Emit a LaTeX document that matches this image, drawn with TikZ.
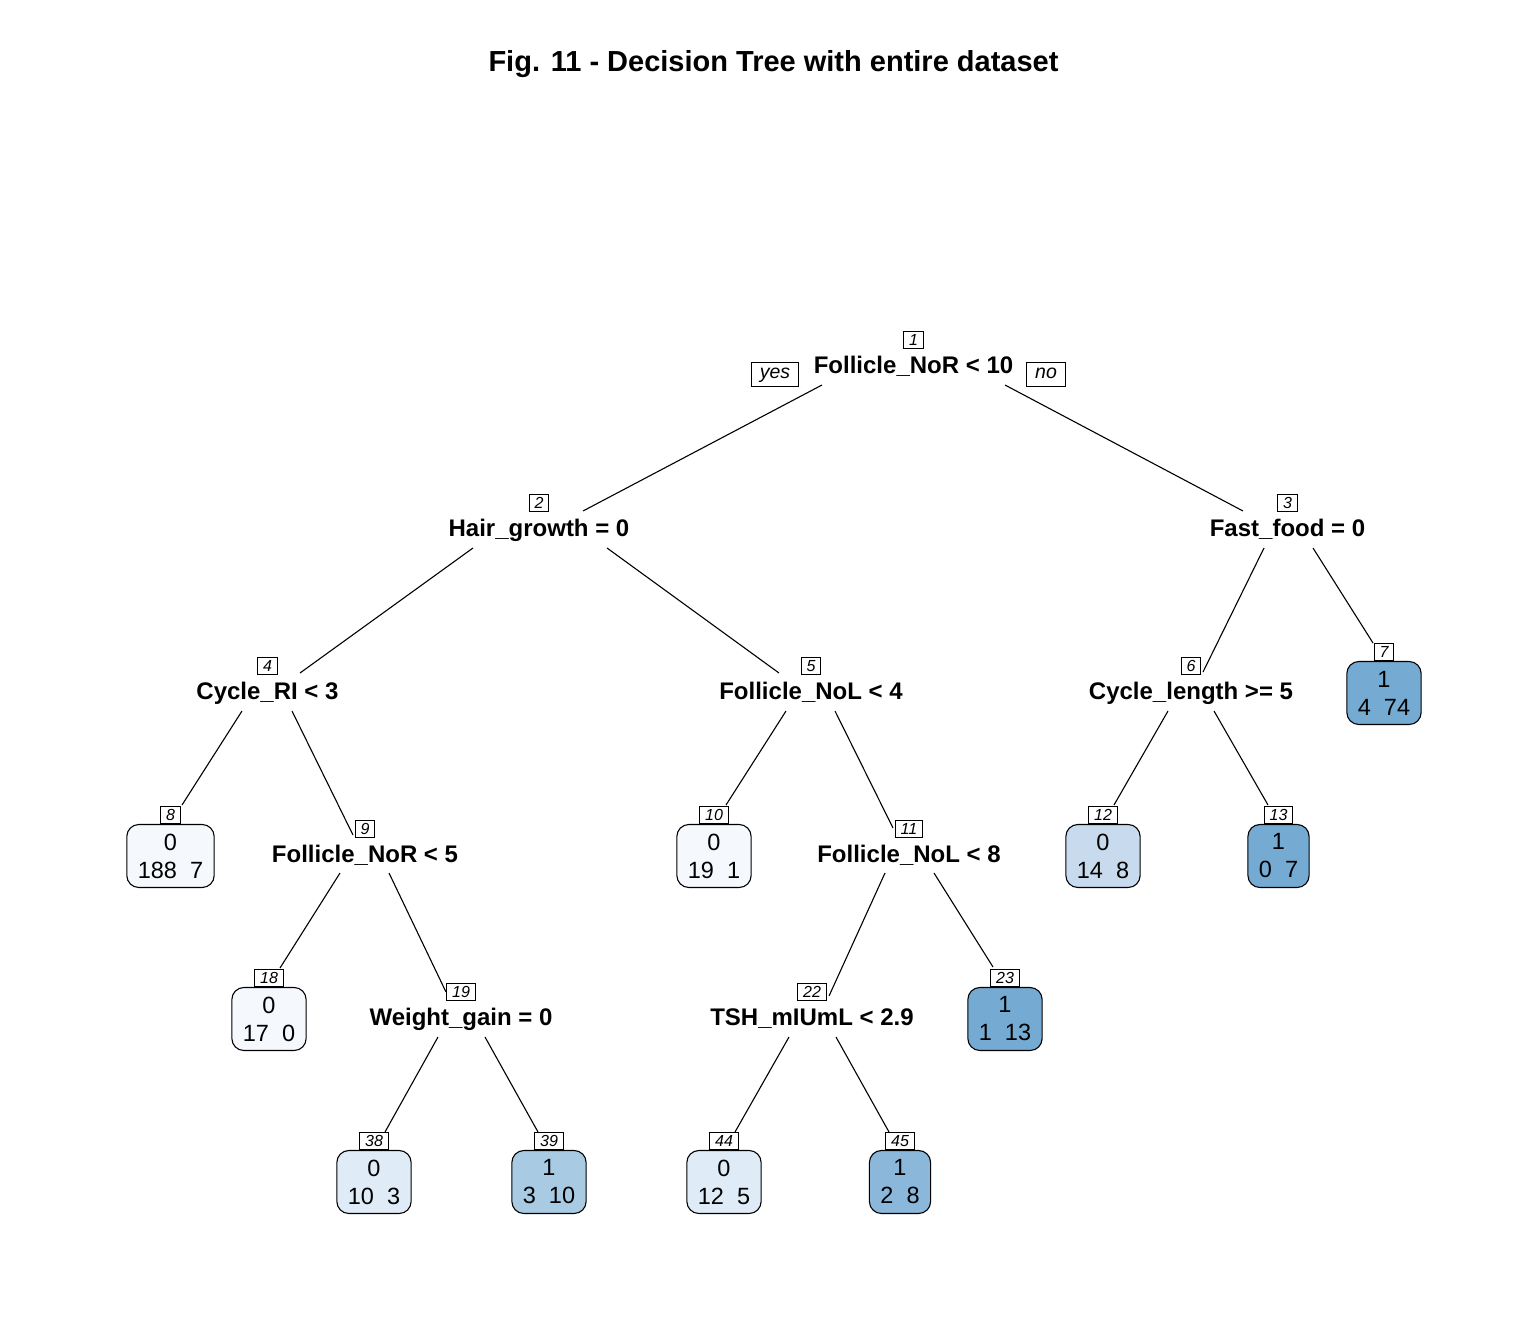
\documentclass[tikz,border=0pt]{standalone}
\usepackage{fontspec}
\setmainfont{Liberation Sans}
\definecolor{ca}{HTML}{F5F9FE}
\definecolor{cb}{HTML}{DFEBF6}
\definecolor{cc}{HTML}{C8DAED}
\definecolor{cd}{HTML}{A8CBE3}
\definecolor{ce}{HTML}{8BB8DA}
\definecolor{cf}{HTML}{75ABD3}
\begin{document}
\begin{tikzpicture}[x=1pt,y=-1pt,
  split/.style={font=\fontsize{24}{28}\selectfont\bfseries, inner sep=0pt, anchor=base},
  numbox/.style={draw, line width=1pt, fill=white, font=\fontsize{16}{16}\selectfont\itshape,
    inner xsep=5.5pt, inner ysep=2.8pt, text height=11.6pt, text depth=0pt},
  yesno/.style={draw, line width=1pt, font=\fontsize{19.5}{22}\selectfont\itshape,
    inner xsep=8.5pt, inner ysep=3pt, text height=13pt, text depth=5pt},
  leaf/.style={draw, line width=1.1pt, rounded corners=12pt, align=center,
    font=\fontsize{23.5}{28}\selectfont, inner xsep=11pt, inner ysep=0pt, minimum height=63pt},
  edge/.style={line width=1.1pt}]
\useasboundingbox (0,0) rectangle (1524,1330);

\node[font=\fontsize{29}{34}\selectfont\bfseries, anchor=base, inner sep=0pt] (title) at (773.5,71.5) {Fig. 11 - Decision Tree with entire dataset};

% split nodes
\foreach \n/\x/\y/\t in {
  1/913.5/373/{Follicle\_NoR < 10},
  2/539/536/{Hair\_growth = 0},
  3/1287.5/536/{Fast\_food = 0},
  4/267.5/699/{Cycle\_RI < 3},
  5/811/699/{Follicle\_NoL < 4},
  6/1191/699/{Cycle\_length >= 5},
  9/365/862/{Follicle\_NoR < 5},
  11/909/862/{Follicle\_NoL < 8},
  19/461/1025/{Weight\_gain = 0},
  22/812/1025/{TSH\_mIUmL < 2.9}}{
  \node[split] (n\n) at (\x,\y) {\t};
  \node[numbox] (b\n) at (\x,\y-33) {\n};
}

% leaves
\foreach \n/\x/\y/\c/\a/\b in {
  7/1384/692.5/cf/1/{4~~74},
  8/170.5/855.5/ca/0/{188~~7},
  10/714/855.5/ca/0/{19~~1},
  12/1103/855.5/cc/0/{14~~8},
  13/1278.5/855.5/cf/1/{0~~7},
  18/269/1018.5/ca/0/{17~~0},
  23/1005/1018.5/cf/1/{1~~13},
  38/374/1181.5/cb/0/{10~~3},
  39/549/1181.5/cd/1/{3~~10},
  44/724/1181.5/cb/0/{12~~5},
  45/900/1181.5/ce/1/{2~~8}}{
  \node[leaf, fill=\c] (l\n) at (\x,\y+0.5) {\a\\\b};
  \node[numbox, anchor=south] (b\n) at (l\n.north) {\n};
}

\node[yesno] (yes) at (775,374.5) {yes};
\node[yesno] (no) at (1046,374.5) {no};

% connectors
\foreach \p/\c/\a/\b/\u/\v in {
  1/2/822/385/583/511,
  1/3/1005/385/1243/511,
  2/4/473/548/300/673,
  2/5/607/548/779/673,
  3/6/1264/548/1203/672,
  3/7/1313/548/1373/643,
  4/8/242/711/182/805,
  4/9/292/711/353/835,
  5/10/786/711/726/805,
  5/11/835/711/893/828,
  6/12/1168/711/1114/805,
  6/13/1214/711/1268/805,
  9/18/340/873/280/968,
  9/19/389/873/446/992,
  11/22/885/873/829/996,
  11/23/934/873/993/967,
  19/38/438/1037/385/1132,
  19/39/485/1037/538/1132,
  22/44/789/1037/735/1132,
  22/45/836/1037/889/1132}{
  \coordinate (s\p-\c) at (\a,\b);
  \coordinate (t\p-\c) at (\u,\v);
  \draw[edge] (s\p-\c) -- (t\p-\c);
}
\end{tikzpicture}
\end{document}
